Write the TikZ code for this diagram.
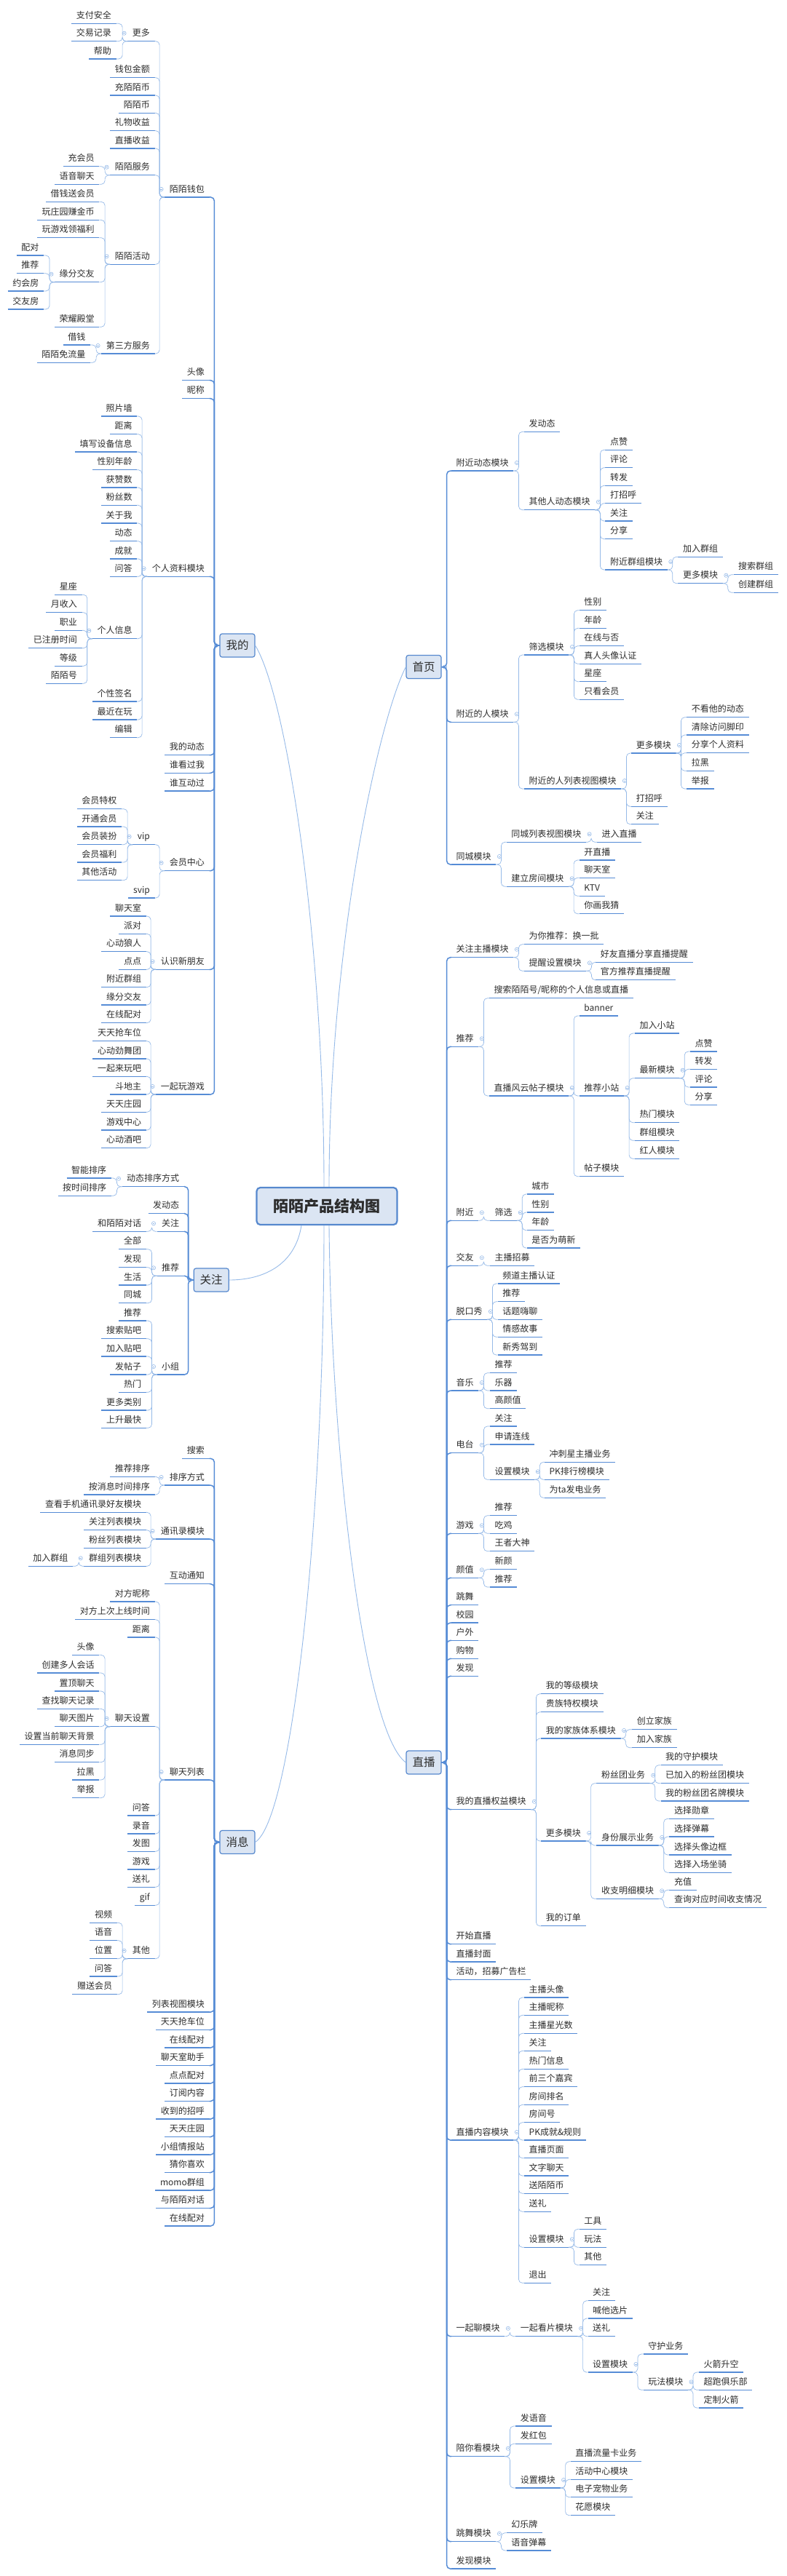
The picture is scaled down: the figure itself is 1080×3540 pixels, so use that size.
\documentclass[tikz,border=0pt]{standalone}
\usepackage{fontspec}
\newfontfamily\cn{Noto Sans CJK SC}
\definecolor{linecol}{RGB}{86,140,214}
\definecolor{twigcol}{RGB}{150,186,232}
\definecolor{boxfill}{RGB}{219,229,243}
\definecolor{boxline}{RGB}{86,136,206}
\definecolor{txt}{RGB}{45,45,45}
\tikzset{
  lab/.style={font=\cn\fontsize{12}{14}\selectfont, text=txt, inner xsep=6.5pt, inner ysep=4.2pt, text height=9pt, text depth=2.5pt},
  uline/.style={draw=linecol, line width=1.4pt},
  lt/.style={lab, anchor=south east, append after command={(\tikzlastnode.south west) edge[uline] (\tikzlastnode.south east)}},
  rt/.style={lab, anchor=south west, append after command={(\tikzlastnode.south west) edge[uline] (\tikzlastnode.south east)}},
  twig/.style={draw=twigcol, line width=0.7pt, rounded corners=5pt},
  spine/.style={twig, draw=linecol, line width=1.5pt},
  fold/.style={draw=twigcol, line width=0.6pt},
  topic/.style={draw=boxline, fill=boxfill, rounded corners=3pt, line width=1.2pt, minimum width=48pt, minimum height=32pt, inner sep=0pt, text=txt, font=\cn\fontsize{15.5}{18}\selectfont},
  rootbox/.style={topic, line width=2.2pt, rounded corners=5pt, minimum width=193pt, minimum height=51pt, font=\cn\bfseries\fontsize{21}{24}\selectfont},
  curve/.style={draw=twigcol, line width=0.9pt}
}
\newcommand\lkids[2]{%
  \draw[fold] ([xshift=-4.5pt,yshift=11pt]#1.south west) circle (2.6pt);
  \draw[fold] ([xshift=-5.9pt,yshift=11pt]#1.south west) -- ++(2.8pt,0);
  \foreach \kid in {#2} \draw[twig] (#1.south west) -- ++(-7pt,0) |- (\kid.south east);}
\newcommand\rkids[2]{%
  \draw[fold] ([xshift=4.5pt,yshift=11pt]#1.south east) circle (2.6pt);
  \draw[fold] ([xshift=3.1pt,yshift=11pt]#1.south east) -- ++(2.8pt,0);
  \foreach \kid in {#2} \draw[twig] (#1.south east) -- ++(7pt,0) |- (\kid.south west);}
\newcommand\lmain[2]{%
  \draw[fold] ([xshift=-4.5pt]#1.west) circle (2.6pt);
  \foreach \kid in {#2} \draw[spine] (#1.west) -- ++(-7pt,0) |- (\kid.south east);}
\newcommand\rmain[2]{%
  \draw[fold] ([xshift=4.5pt]#1.east) circle (2.6pt);
  \foreach \kid in {#2} \draw[spine] (#1.east) -- ++(7pt,0) |- (\kid.south west);}
\begin{document}
\begin{tikzpicture}[x=1pt, y=-1pt]
 \useasboundingbox[fill=white] (0,0) rectangle (1080,3540);

 \node[rootbox] (chart) at (449,1657.5) {陌陌产品结构图};

 \node[topic] (mine) at (326,887) {我的};
 \foreach \n/\lbl/\y in {mw/陌陌钱包/271, mavt/头像/522.7, mnick/昵称/547.7, mpro/个人资料模块/792.3, mdyn/我的动态/1037.7, mseen/谁看过我/1062.3, mint/谁互动过/1087, mvip/会员中心/1196.7, mnew/认识新朋友/1332.3, mgame/一起玩游戏/1504}
   \node[lt] (\n) at (287.5,\y) {\lbl};
 \lmain{mine}{mw,mavt,mnick,mpro,mdyn,mseen,mint,mvip,mnew,mgame}
 \foreach \n/\lbl/\y in {mwmore/更多/56.7, mw1/钱包金额/106.7, mw2/充陌陌币/131, mw3/陌陌币/155.3, mw4/礼物收益/179.7, mw5/直播收益/204, mwsv/陌陌服务/240.7, mwact/陌陌活动/363.3, mwtp/第三方服务/486}
   \node[lt] (\n) at (212.5,\y) {\lbl};
 \lkids{mw}{mwmore,mw1,mw2,mw3,mw4,mw5,mwsv,mwact,mwtp}
 \foreach \n/\lbl/\y in {mwm1/支付安全/32.3, mwm2/交易记录/56.7, mwm3/帮助/81}
   \node[lt] (\n) at (159.6,\y) {\lbl};
 \lkids{mwmore}{mwm1,mwm2,mwm3}
 \foreach \n/\lbl/\y in {mws1/充会员/228.7, mws2/语音聊天/253.3}
   \node[lt] (\n) at (136.4,\y) {\lbl};
 \lkids{mwsv}{mws1,mws2}
 \foreach \n/\lbl/\y in {mwa1/借钱送会员/277.3, mwa2/玩庄园赚金币/302.3, mwa3/玩游戏领福利/326.7, mwa4/缘分交友/387.7, mwa5/荣耀殿堂/449.3}
   \node[lt] (\n) at (136.4,\y) {\lbl};
 \lkids{mwact}{mwa1,mwa2,mwa3,mwa4,mwa5}
 \foreach \n/\lbl/\y in {mwy1/配对/351, mwy2/推荐/375.7, mwy3/约会房/400, mwy4/交友房/425}
   \node[lt] (\n) at (60,\y) {\lbl};
 \lkids{mwa4}{mwy1,mwy2,mwy3,mwy4}
 \foreach \n/\lbl/\y in {mwt1/借钱/474, mwt2/陌陌免流量/498.3}
   \node[lt] (\n) at (124,\y) {\lbl};
 \lkids{mwtp}{mwt1,mwt2}
 \foreach \n/\lbl/\y in {mp1/照片墙/572, mp2/距离/596.7, mp3/填写设备信息/621, mp4/性别年龄/645.7, mp5/获赞数/670, mp6/粉丝数/694.3, mp7/关于我/719, mp8/动态/743.7, mp9/成就/768, mp10/问答/792.3, mpinfo/个人信息/877.7, mp11/个性签名/964, mp12/最近在玩/989, mp13/编辑/1013.7}
   \node[lt] (\n) at (188.2,\y) {\lbl};
 \lkids{mpro}{mp1,mp2,mp3,mp4,mp5,mp6,mp7,mp8,mp9,mp10,mpinfo,mp11,mp12,mp13}
 \foreach \n/\lbl/\y in {mpi1/星座/817.3, mpi2/月收入/841.7, mpi3/职业/866.3, mpi4/已注册时间/890.7, mpi5/等级/915.3, mpi6/陌陌号/939.3}
   \node[lt] (\n) at (112.5,\y) {\lbl};
 \lkids{mpinfo}{mpi1,mpi2,mpi3,mpi4,mpi5,mpi6}
 \foreach \n/\lbl/\y in {mv1/vip/1160.7, mv2/svip/1234}
   \node[lt] (\n) at (212.5,\y) {\lbl};
 \lkids{mvip}{mv1,mv2}
 \foreach \n/\lbl/\y in {mvv1/会员特权/1111.7, mvv2/开通会员/1136, mvv3/会员装扮/1160.7, mvv4/会员福利/1185, mvv5/其他活动/1209.7}
   \node[lt] (\n) at (167.1,\y) {\lbl};
 \lkids{mv1}{mvv1,mvv2,mvv3,mvv4,mvv5}
 \foreach \n/\lbl/\y in {mn1/聊天室/1259, mn2/派对/1283.3, mn3/心动狼人/1307.7, mn4/点点/1332.3, mn5/附近群组/1356.7, mn6/缘分交友/1381, mn7/在线配对/1405.7}
   \node[lt] (\n) at (200.7,\y) {\lbl};
 \lkids{mnew}{mn1,mn2,mn3,mn4,mn5,mn6,mn7}
 \foreach \n/\lbl/\y in {mg1/天天抢车位/1430.7, mg2/心动劲舞团/1455, mg3/一起来玩吧/1479.3, mg4/斗地主/1504, mg5/天天庄园/1528.3, mg6/游戏中心/1553, mg7/心动酒吧/1577.7}
   \node[lt] (\n) at (200.7,\y) {\lbl};
 \lkids{mgame}{mg1,mg2,mg3,mg4,mg5,mg6,mg7}

 \node[topic] (follow) at (290.2,1759) {关注};
 \foreach \n/\lbl/\y in {fsort/动态排序方式/1630.7, fpost/发动态/1667.7, ffol/关注/1692.3, frec/推荐/1753.3, fgrp/小组/1889}
   \node[lt] (\n) at (252.9,\y) {\lbl};
 \lmain{follow}{fsort,fpost,ffol,frec,fgrp}
 \foreach \n/\lbl/\y in {fs1/智能排序/1619, fs2/按时间排序/1643.3}
   \node[lt] (\n) at (152.9,\y) {\lbl};
 \lkids{fsort}{fs1,fs2}
 \node[lt] (ff1) at (200.7,1692.3) {和陌陌对话};
 \lkids{ffol}{ff1}
 \foreach \n/\lbl/\y in {fr1/全部/1716.7, fr2/发现/1741.7, fr3/生活/1766, fr4/同城/1790.7}
   \node[lt] (\n) at (200.7,\y) {\lbl};
 \lkids{frec}{fr1,fr2,fr3,fr4}
 \foreach \n/\lbl/\y in {fg1/推荐/1815, fg2/搜索贴吧/1839.7, fg3/加入贴吧/1864, fg4/发帖子/1889, fg5/热门/1913.3, fg6/更多类别/1938, fg7/上升最快/1962.3}
   \node[lt] (\n) at (200.7,\y) {\lbl};
 \lkids{fgrp}{fg1,fg2,fg3,fg4,fg5,fg6,fg7}

 \node[topic] (msg) at (326,2531.5) {消息};
 \foreach \n/\lbl/\y in {xs/搜索/2004.3, xsort/排序方式/2041, xbook/通讯录模块/2115, xnote/互动通知/2176.7, xchat/聊天列表/2446, xl1/列表视图模块/2765, xl2/天天抢车位/2789.5, xl3/在线配对/2814, xl4/聊天室助手/2838.5, xl5/点点配对/2863, xl6/订阅内容/2887.5, xl7/收到的招呼/2912, xl8/天天庄园/2936.5, xl9/小组情报站/2961, xl10/猜你喜欢/2985.5, xl11/momo群组/3010, xl12/与陌陌对话/3034.5, xl13/在线配对/3059}
   \node[lt] (\n) at (287.5,\y) {\lbl};
 \lmain{msg}{xs,xsort,xbook,xnote,xchat,xl1,xl2,xl3,xl4,xl5,xl6,xl7,xl8,xl9,xl10,xl11,xl12,xl13}
 \foreach \n/\lbl/\y in {xso1/推荐排序/2029.3, xso2/按消息时间排序/2054}
   \node[lt] (\n) at (212.5,\y) {\lbl};
 \lkids{xsort}{xso1,xso2}
 \foreach \n/\lbl/\y in {xb1/查看手机通讯录好友模块/2078.3, xb2/关注列表模块/2102.7, xb3/粉丝列表模块/2127.3, xb4/群组列表模块/2152.3}
   \node[lt] (\n) at (200.7,\y) {\lbl};
 \lkids{xbook}{xb1,xb2,xb3,xb4}
 \node[lt] (xb41) at (100,2152.3) {加入群组};
 \lkids{xb4}{xb41}
 \foreach \n/\lbl/\y in {xc1/对方昵称/2201, xc2/对方上次上线时间/2225.7, xc3/距离/2250, xset/聊天设置/2372.7, xc4/问答/2495, xc5/录音/2520, xc6/发图/2544.3, xc7/游戏/2569, xc8/送礼/2593.3, xc9/gif/2618.3, xoth/其他/2691.7}
   \node[lt] (\n) at (212.5,\y) {\lbl};
 \lkids{xchat}{xc1,xc2,xc3,xset,xc4,xc5,xc6,xc7,xc8,xc9,xoth}
 \foreach \n/\lbl/\y in {xt1/头像/2274.3, xt2/创建多人会话/2299, xt3/置顶聊天/2324, xt4/查找聊天记录/2348.3, xt5/聊天图片/2372.7, xt6/设置当前聊天背景/2397.3, xt7/消息同步/2421.7, xt8/拉黑/2446, xt9/举报/2470.7}
   \node[lt] (\n) at (136.4,\y) {\lbl};
 \lkids{xset}{xt1,xt2,xt3,xt4,xt5,xt6,xt7,xt8,xt9}
 \foreach \n/\lbl/\y in {xo1/视频/2642.3, xo2/语音/2666.7, xo3/位置/2691.7, xo4/问答/2716, xo5/赠送会员/2740.7}
   \node[lt] (\n) at (160.7,\y) {\lbl};
 \lkids{xoth}{xo1,xo2,xo3,xo4,xo5}

 \node[topic] (home) at (582,916.5) {首页};
 \foreach \n/\lbl/\y in {hdyn/附近动态模块/647, hppl/附近的人模块/992.3, hcity/同城模块/1188}
   \node[rt] (\n) at (620,\y) {\lbl};
 \rmain{home}{hdyn,hppl,hcity}
 \foreach \n/\lbl/\y in {hd1/发动态/593.3, hdo/其他人动态模块/700.7}
   \node[rt] (\n) at (720,\y) {\lbl};
 \rkids{hdyn}{hd1,hdo}
 \foreach \n/\lbl/\y in {ho1/点赞/618.3, ho2/评论/642.7, ho3/转发/667.3, ho4/打招呼/691.7, ho5/关注/716, ho6/分享/740.7, hog/附近群组模块/783}
   \node[rt] (\n) at (831.4,\y) {\lbl};
 \rkids{hdo}{ho1,ho2,ho3,ho4,ho5,ho6,hog}
 \foreach \n/\lbl/\y in {hg1/加入群组/765.3, hgm/更多模块/801.7}
   \node[rt] (\n) at (931.4,\y) {\lbl};
 \rkids{hog}{hg1,hgm}
 \foreach \n/\lbl/\y in {hgm1/搜索群组/789.7, hgm2/创建群组/814.3}
   \node[rt] (\n) at (1007.5,\y) {\lbl};
 \rkids{hgm}{hgm1,hgm2}
 \foreach \n/\lbl/\y in {hflt/筛选模块/900, hlist/附近的人列表视图模块/1084}
   \node[rt] (\n) at (720,\y) {\lbl};
 \rkids{hppl}{hflt,hlist}
 \foreach \n/\lbl/\y in {hf1/性别/838.7, hf2/年龄/863.3, hf3/在线与否/887.7, hf4/真人头像认证/912.3, hf5/星座/936.7, hf6/只看会员/961.3}
   \node[rt] (\n) at (795.7,\y) {\lbl};
 \rkids{hflt}{hf1,hf2,hf3,hf4,hf5,hf6}
 \foreach \n/\lbl/\y in {hlm/更多模块/1035, hl1/打招呼/1108.3, hl2/关注/1132.7}
   \node[rt] (\n) at (867.1,\y) {\lbl};
 \rkids{hlist}{hlm,hl1,hl2}
 \foreach \n/\lbl/\y in {hlm1/不看他的动态/985.7, hlm2/清除访问脚印/1010, hlm3/分享个人资料/1034.7, hlm4/拉黑/1059.3, hlm5/举报/1084}
   \node[rt] (\n) at (943.2,\y) {\lbl};
 \rkids{hlm}{hlm1,hlm2,hlm3,hlm4,hlm5}
 \foreach \n/\lbl/\y in {hcl/同城列表视图模块/1157.3, hcr/建立房间模块/1218.3}
   \node[rt] (\n) at (695.7,\y) {\lbl};
 \rkids{hcity}{hcl,hcr}
 \node[rt] (hcl1) at (820,1157.3) {进入直播};
 \rkids{hcl}{hcl1}
 \foreach \n/\lbl/\y in {hcr1/开直播/1182, hcr2/聊天室/1206.3, hcr3/KTV/1231.3, hcr4/你画我猜/1255.7}
   \node[rt] (\n) at (795.7,\y) {\lbl};
 \rkids{hcr}{hcr1,hcr2,hcr3,hcr4}

 \node[topic] (live) at (582,2422) {直播};
 \foreach \n/\lbl/\y in {zfol/关注主播模块/1315.7, zrec/推荐/1438.3, znear/附近/1677.3, zfri/交友/1739.3, ztalk/脱口秀/1813.3, zmus/音乐/1911, zradio/电台/1996.7, zgame/游戏/2107.3, zlook/颜值/2168.3, z1/跳舞/2205.7, z2/校园/2230, z3/户外/2254.3, z4/购物/2279.3, z5/发现/2303.3, zmine/我的直播权益模块/2486.7, z6/开始直播/2671.7, z7/直播封面/2696, z8/活动，招募广告栏/2720.7, zcont/直播内容模块/2941, ztog/一起聊模块/3210.7, zacc/陪你看模块/3375.7, zdance/跳舞模块/3492.7, z9/发现模块/3530}
   \node[rt] (\n) at (620,\y) {\lbl};
 \rmain{live}{zfol,zrec,znear,zfri,ztalk,zmus,zradio,zgame,zlook,z1,z2,z3,z4,z5,zmine,z6,z7,z8,zcont,ztog,zacc,zdance,z9}
 \foreach \n/\lbl/\y in {zf1/为你推荐：换一批/1297.7, zfset/提醒设置模块/1334.3}
   \node[rt] (\n) at (720,\y) {\lbl};
 \rkids{zfol}{zf1,zfset}
 \foreach \n/\lbl/\y in {zfs1/好友直播分享直播提醒/1322.3, zfs2/官方推荐直播提醒/1346.7}
   \node[rt] (\n) at (818.2,\y) {\lbl};
 \rkids{zfset}{zfs1,zfs2}
 \node[rt] (zr1) at (671.8,1371.7) {搜索陌陌号/昵称的个人信息或直播};
 \node[rt] (zrpost) at (671.8,1506) {直播风云帖子模块};
 \rkids{zrec}{zr1,zrpost}
 \foreach \n/\lbl/\y in {zp1/banner/1396, zpst/推荐小站/1506, zp2/帖子模块/1616.7}
   \node[rt] (\n) at (795.7,\y) {\lbl};
 \rkids{zrpost}{zp1,zpst,zp2}
 \foreach \n/\lbl/\y in {zs1/加入小站/1420, zsnew/最新模块/1481.7, zs2/热门模块/1542.7, zs3/群组模块/1567.3, zs4/红人模块/1592.3}
   \node[rt] (\n) at (871.8,\y) {\lbl};
 \rkids{zpst}{zs1,zsnew,zs2,zs3,zs4}
 \foreach \n/\lbl/\y in {zsn1/点赞/1445, zsn2/转发/1469.3, zsn3/评论/1494, zsn4/分享/1518.3}
   \node[rt] (\n) at (947.9,\y) {\lbl};
 \rkids{zsnew}{zsn1,zsn2,zsn3,zsn4}
 \node[rt] (znf) at (672.9,1677.3) {筛选};
 \rkids{znear}{znf}
 \foreach \n/\lbl/\y in {zn1/城市/1641, zn2/性别/1666, zn3/年龄/1690.7, zn4/是否为萌新/1715}
   \node[rt] (\n) at (723.6,\y) {\lbl};
 \rkids{znf}{zn1,zn2,zn3,zn4}
 \node[rt] (zfr1) at (672.9,1739.3) {主播招募};
 \rkids{zfri}{zfr1}
 \foreach \n/\lbl/\y in {zt1/频道主播认证/1764, zt2/推荐/1788.7, zt3/话题嗨聊/1813.3, zt4/情感故事/1837.3, zt5/新秀驾到/1862}
   \node[rt] (\n) at (683.6,\y) {\lbl};
 \rkids{ztalk}{zt1,zt2,zt3,zt4,zt5}
 \foreach \n/\lbl/\y in {zm1/推荐/1886.7, zm2/乐器/1911, zm3/高颜值/1935.7}
   \node[rt] (\n) at (672.9,\y) {\lbl};
 \rkids{zmus}{zm1,zm2,zm3}
 \foreach \n/\lbl/\y in {zd1/关注/1960, zd2/申请连线/1985, zdset/设置模块/2033.3}
   \node[rt] (\n) at (672.9,\y) {\lbl};
 \rkids{zradio}{zd1,zd2,zdset}
 \foreach \n/\lbl/\y in {zds1/冲刺星主播业务/2009.3, zds2/PK排行榜模块/2033.3, zds3/为ta发电业务/2058.3}
   \node[rt] (\n) at (747.9,\y) {\lbl};
 \rkids{zdset}{zds1,zds2,zds3}
 \foreach \n/\lbl/\y in {zg1/推荐/2082.7, zg2/吃鸡/2107.3, zg3/王者大神/2131.7}
   \node[rt] (\n) at (672.9,\y) {\lbl};
 \rkids{zgame}{zg1,zg2,zg3}
 \foreach \n/\lbl/\y in {zl1/新颜/2156.7, zl2/推荐/2181}
   \node[rt] (\n) at (672.9,\y) {\lbl};
 \rkids{zlook}{zl1,zl2}
 \foreach \n/\lbl/\y in {zq1/我的等级模块/2327.7, zq2/贵族特权模块/2352.7, zqfam/我的家族体系模块/2389, zqmore/更多模块/2530, zq3/我的订单/2646.7}
   \node[rt] (\n) at (743.2,\y) {\lbl};
 \rkids{zmine}{zq1,zq2,zqfam,zqmore,zq3}
 \foreach \n/\lbl/\y in {zqf1/创立家族/2376.7, zqf2/加入家族/2401.7}
   \node[rt] (\n) at (868.2,\y) {\lbl};
 \rkids{zqfam}{zqf1,zqf2}
 \foreach \n/\lbl/\y in {zqfan/粉丝团业务/2450.7, zqid/身份展示业务/2536, zqpay/收支明细模块/2609.3}
   \node[rt] (\n) at (819.3,\y) {\lbl};
 \rkids{zqmore}{zqfan,zqid,zqpay}
 \foreach \n/\lbl/\y in {zqa1/我的守护模块/2425.7, zqa2/已加入的粉丝团模块/2450.7, zqa3/我的粉丝团名牌模块/2475}
   \node[rt] (\n) at (907.5,\y) {\lbl};
 \rkids{zqfan}{zqa1,zqa2,zqa3}
 \foreach \n/\lbl/\y in {zqb1/选择勋章/2499.3, zqb2/选择弹幕/2524, zqb3/选择头像边框/2549, zqb4/选择入场坐骑/2573.3}
   \node[rt] (\n) at (919.3,\y) {\lbl};
 \rkids{zqid}{zqb1,zqb2,zqb3,zqb4}
 \foreach \n/\lbl/\y in {zqc1/充值/2597.3, zqc2/查询对应时间收支情况/2621.7}
   \node[rt] (\n) at (919.3,\y) {\lbl};
 \rkids{zqpay}{zqc1,zqc2}
 \foreach \n/\lbl/\y in {zc1/主播头像/2745, zc2/主播昵称/2769.3, zc3/主播星光数/2794.3, zc4/关注/2818.3, zc5/热门信息/2843.3, zc6/前三个嘉宾/2867.7, zc7/房间排名/2892.3, zc8/房间号/2916.7, zc9/PK成就\&规则/2941, zc10/直播页面/2965.7, zc11/文字聊天/2990, zc12/送陌陌币/3014.3, zc13/送礼/3039.3, zcset/设置模块/3088.3, zc14/退出/3137.3}
   \node[rt] (\n) at (720,\y) {\lbl};
 \rkids{zcont}{zc1,zc2,zc3,zc4,zc5,zc6,zc7,zc8,zc9,zc10,zc11,zc12,zc13,zcset,zc14}
 \foreach \n/\lbl/\y in {zcs1/工具/3063.3, zcs2/玩法/3088.3, zcs3/其他/3112.7}
   \node[rt] (\n) at (795.7,\y) {\lbl};
 \rkids{zcset}{zcs1,zcs2,zcs3}
 \node[rt] (zwatch) at (708.2,3210.7) {一起看片模块};
 \rkids{ztog}{zwatch}
 \foreach \n/\lbl/\y in {zw1/关注/3161.7, zw2/喊他选片/3186, zw3/送礼/3210.7, zwset/设置模块/3260}
   \node[rt] (\n) at (807.5,\y) {\lbl};
 \rkids{zwatch}{zw1,zw2,zw3,zwset}
 \foreach \n/\lbl/\y in {zws1/守护业务/3235, zwplay/玩法模块/3284.3}
   \node[rt] (\n) at (883.6,\y) {\lbl};
 \rkids{zwset}{zws1,zwplay}
 \foreach \n/\lbl/\y in {zwp1/火箭升空/3260, zwp2/超跑俱乐部/3284.3, zwp3/定制火箭/3309}
   \node[rt] (\n) at (960,\y) {\lbl};
 \rkids{zwplay}{zwp1,zwp2,zwp3}
 \foreach \n/\lbl/\y in {za1/发语音/3334, za2/发红包/3358.3, zaset/设置模块/3419}
   \node[rt] (\n) at (708.2,\y) {\lbl};
 \rkids{zacc}{za1,za2,zaset}
 \foreach \n/\lbl/\y in {zas1/直播流量卡业务/3382.7, zas2/活动中心模块/3407.3, zas3/电子宠物业务/3431.7, zas4/花愿模块/3456.7}
   \node[rt] (\n) at (783.6,\y) {\lbl};
 \rkids{zaset}{zas1,zas2,zas3,zas4}
 \foreach \n/\lbl/\y in {zdc1/幻乐牌/3480.7, zdc2/语音弹幕/3505}
   \node[rt] (\n) at (695.7,\y) {\lbl};
 \rkids{zdance}{zdc1,zdc2}

 \draw[curve] ([xshift=-4pt]chart.north) .. controls (445,1300) and (395,960) .. (mine.east);
 \draw[curve] ([xshift=3pt]chart.north) .. controls (452,1300) and (520,990) .. (home.west);
 \draw[curve] ([xshift=-35pt]chart.south) .. controls (405,1740) and (360,1759) .. (follow.east);
 \draw[curve] ([xshift=-4pt]chart.south) .. controls (445,2100) and (400,2500) .. (msg.east);
 \draw[curve] ([xshift=3pt]chart.south) .. controls (455,2000) and (500,2380) .. (live.west);
\end{tikzpicture}
\end{document}
